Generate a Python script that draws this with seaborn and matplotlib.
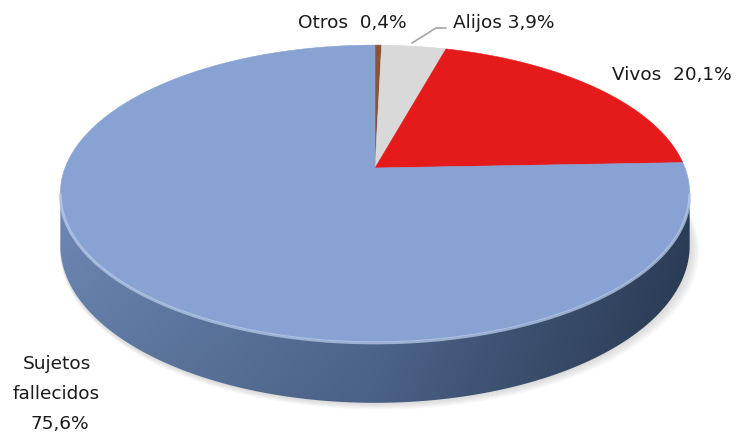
import numpy as np
import matplotlib
matplotlib.use("Agg")
import matplotlib.pyplot as plt
import seaborn as sns
from matplotlib.transforms import Transform
from matplotlib.path import Path
from matplotlib.patches import PathPatch
from matplotlib.colors import to_rgb

# Shares of the total (percent), in clockwise order from 12 o'clock
categories = ["Otros", "Alijos", "Vivos", "Sujetos fallecidos"]
shares = [0.4, 3.9, 20.1, 75.6]
share_labels = ["0,4%", "3,9%", "20,1%", "75,6%"]
colors = ["#8A5530", "#D9D9D9", "#E51B1B", "#87A2D3"]

sns.set_theme(style="white")
plt.rcParams["font.family"] = ["DejaVu Sans"]

W, H = 739, 436
fig = plt.figure(figsize=(W / 100, H / 100), dpi=100)
ax = fig.add_axes([0, 0, 1, 1])


class Tilt(Transform):
    """Perspective view of the unit disc lying on a table, lowered by `drop` pixels."""
    input_dims = output_dims = 2

    def __init__(self, cx, cy, a, b, k, drop=0.0, dx=0.0):
        super().__init__()
        self.cx, self.cy, self.a, self.b, self.k = cx, cy, a, b, k
        self.drop, self.dx = drop, dx

    def transform_non_affine(self, pts):
        pts = np.atleast_2d(np.asarray(pts, float))
        u, v = pts[:, 0], pts[:, 1]
        w = 1.0 + self.k * v
        x = self.cx + self.dx + self.a * u / w
        y = self.cy - self.b * v / w + self.drop / w
        return np.column_stack([x, y])

    def transform_path_non_affine(self, path):
        # sample every Bezier piece densely, then project the samples
        pts = []
        ts = np.linspace(0, 1, 32)
        for seg, code in path.iter_bezier():
            if seg.degree == 0:
                pts.append(seg.control_points[:1])
            else:
                pts.append(seg(ts))
        pts = self.transform_non_affine(np.concatenate(pts))
        codes = np.full(len(pts), Path.LINETO)
        codes[0] = Path.MOVETO
        return Path(pts, codes)


CX, CY, A, B, K, DEPTH = 375.0, 168.0, 310.0, 144.0, 0.1717, 50.5

wedges, _ = ax.pie(shares, colors=colors, startangle=90, counterclock=False,
                   wedgeprops=dict(linewidth=0.4))
for wd, c in zip(wedges, colors):
    wd.set_edgecolor(c)

ax.set_aspect("auto")
ax.set_xlim(0, W)
ax.set_ylim(H, 0)
ax.axis("off")

main = wedges[-1]
top = Tilt(CX, CY, A, B, K)

# soft shadow under the disc
for i in range(1, 9):
    sh = PathPatch(main.get_path(), facecolor="#7a7a7a", edgecolor="none",
                   alpha=0.035, zorder=0.5,
                   transform=Tilt(CX, CY, A + i * 0.6, B, K, drop=DEPTH + i * 0.7, dx=i * 0.6) + ax.transData)
    ax.add_patch(sh)

# side wall of the disc: shaded band between the top and bottom rims
t0 = np.pi + np.arcsin(K)
t1 = 2 * np.pi - np.arcsin(K)
tt = np.linspace(t0, t1, 240)
rim = np.column_stack([np.cos(tt), np.sin(tt)])
upper = Tilt(CX, CY, A, B, K).transform(rim)
lower = Tilt(CX, CY, A, B, K, drop=DEPTH).transform(rim)[::-1]
wall_path = Path(np.vstack([upper, lower, upper[:1]]), closed=True)
wall = PathPatch(wall_path, facecolor="none", edgecolor="none", transform=ax.transData)
ax.add_patch(wall)

xs = np.linspace(0, 1, 300)
ys = np.linspace(0, 1, 100)
left_c = np.array(to_rgb("#6E89B6"))
mid_c = np.array(to_rgb("#546E98"))
right_c = np.array(to_rgb("#2C3E58"))
hx = np.where(xs[None, :] < 0.5, xs[None, :] * 2, (xs[None, :] - 0.5) * 2)
base = np.where((xs < 0.5)[None, :, None],
                left_c * (1 - hx[..., None]) + mid_c * hx[..., None],
                mid_c * (1 - hx[..., None]) + right_c * hx[..., None])
shade = 1.0 - 0.12 * ys[:, None, None]
img = np.clip(base * shade, 0, 1)
y_lo, y_hi = upper[:, 1].min() - 5, lower[:, 1].max() + 2
im = ax.imshow(img, extent=[upper[:, 0].min() - 2, upper[:, 0].max() + 2, y_hi, y_lo],
               origin="upper", aspect="auto", zorder=1, interpolation="bilinear")
im.set_clip_path(wall)

# top face
for wd in wedges:
    wd.set_transform(top + ax.transData)
    wd.set_zorder(2)

# light rim along the front edge of the top face
ax.plot(upper[:, 0], upper[:, 1] + 1.0, color="#B8CBEA", lw=2.2, alpha=0.75,
        zorder=3, solid_capstyle="round")

# labels
txt = dict(color="#1A1A1A", fontsize=13.3, va="center")
ax.text(298, 23.5, f"{categories[0]}  {share_labels[0]}", ha="left", **txt)
ax.text(453, 23.5, f"{categories[1]} {share_labels[1]}", ha="left", **txt)
ax.text(612, 75.5, f"{categories[2]}  {share_labels[2]}", ha="left", **txt)
ax.text(57, 364, "Sujetos", ha="center", **txt)
ax.text(56, 394, "fallecidos", ha="center", **txt)
ax.text(60, 424, share_labels[3], ha="center", **txt)

# leader line for the small slice
ax.plot([412, 436, 446], [43, 28, 28], color="#A6A6A6", lw=1.2, zorder=4)

fig.savefig("out.png", dpi=100, facecolor="white")
